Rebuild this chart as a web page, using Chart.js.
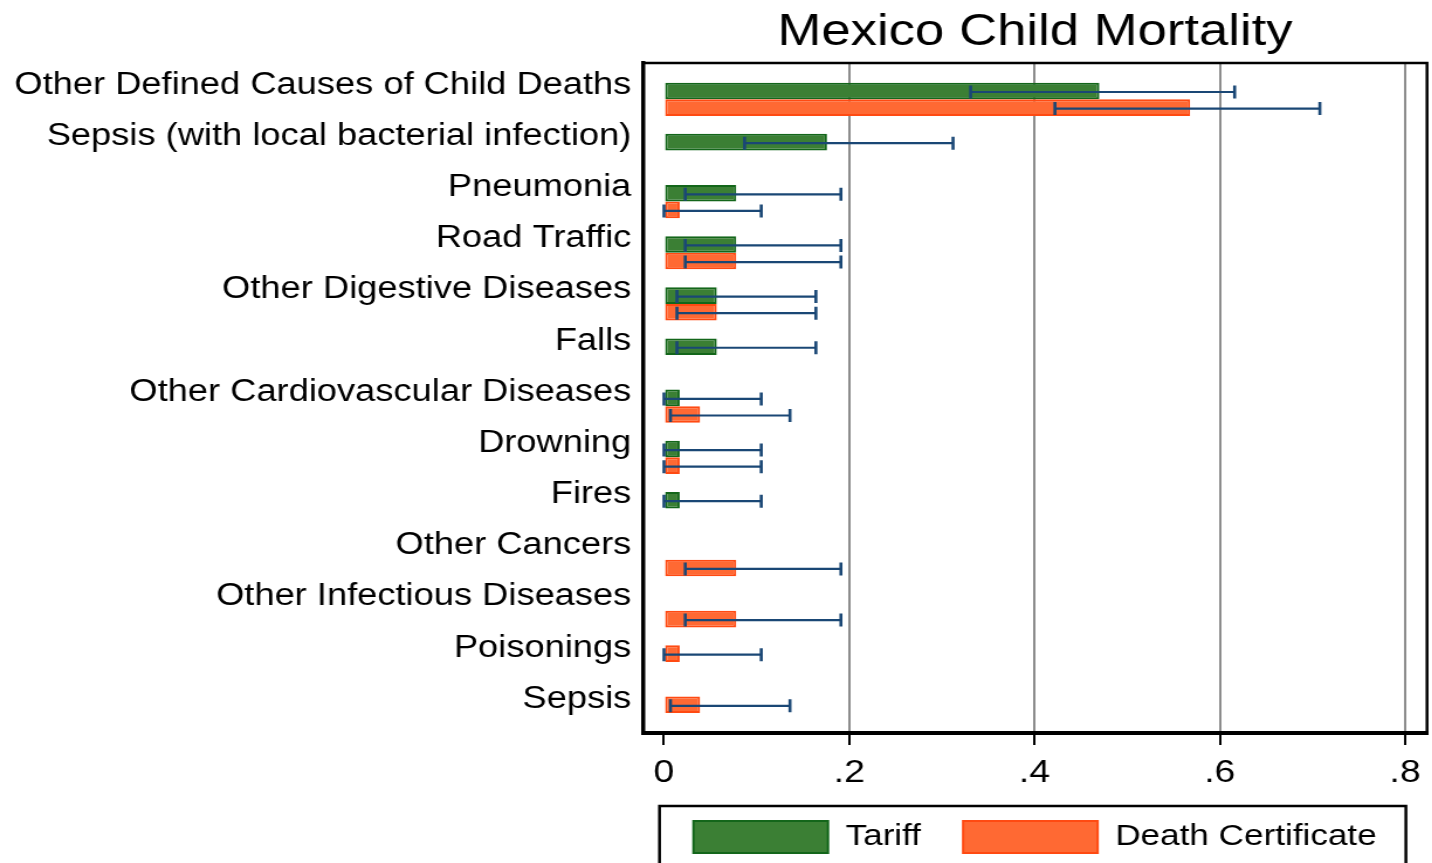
<!DOCTYPE html>
<html>
<head>
<meta charset="utf-8">
<title>Mexico Child Mortality</title>
<script src="https://cdn.jsdelivr.net/npm/chart.js@4.4.1/dist/chart.umd.min.js"></script>
<style>
  html, body { margin: 0; padding: 0; background: #fff; overflow: hidden; }
  /* the source picture is a horizontally stretched Stata graph */
  #chart { transform: scaleX(1.17); transform-origin: 0 0; }
</style>
</head>
<body>
<canvas id="chart" width="1224" height="863"></canvas>
<script>
const causes = [
  'Other Defined Causes of Child Deaths',
  'Sepsis (with local bacterial infection)',
  'Pneumonia',
  'Road Traffic',
  'Other Digestive Diseases',
  'Falls',
  'Other Cardiovascular Diseases',
  'Drowning',
  'Fires',
  'Other Cancers',
  'Other Infectious Diseases',
  'Poisonings',
  'Sepsis'
];

const tariff     = [0.470, 0.176, 0.078, 0.078, 0.057, 0.057, 0.017, 0.017, 0.017, null, null, null, null];
const tariffLow  = [0.331, 0.087, 0.023, 0.023, 0.014, 0.014, 0.000, 0.000, 0.000, null, null, null, null];
const tariffHigh = [0.616, 0.312, 0.191, 0.191, 0.164, 0.164, 0.105, 0.105, 0.105, null, null, null, null];

const deathCert     = [0.568, null, 0.017, 0.078, 0.057, null, 0.039, 0.017, null, 0.078, 0.078, 0.017, 0.039];
const deathCertLow  = [0.422, null, 0.000, 0.023, 0.014, null, 0.007, 0.000, null, 0.023, 0.023, 0.000, 0.007];
const deathCertHigh = [0.708, null, 0.105, 0.191, 0.164, null, 0.136, 0.105, null, 0.191, 0.191, 0.105, 0.136];

// causes whose death certificate bar sits in the first (Tariff) slot in the original
const dcFirstSlot = ['Poisonings', 'Sepsis'];

const tickValues = [0, 0.2, 0.4, 0.6, 0.8];
const tickLabels = ['0', '.2', '.4', '.6', '.8'];

Chart.defaults.font.family = '"Liberation Sans", Arial, sans-serif';
Chart.defaults.color = '#000';

const GREEN = '#3b7f34', GREEN_EDGE = '#13661a';
const ORANGE = '#ff6933', ORANGE_EDGE = '#ff4a12';

function points(values, lows, highs, keep) {
  return causes
    .map((cause, i) => ({ x: values[i], y: i, low: lows[i], high: highs[i], cause }))
    .filter(p => p.x !== null && keep(p.cause));
}

const barStyle = { borderWidth: 2, borderSkipped: false, categoryPercentage: 0.649, barPercentage: 1 };

const errorBars = {
  id: 'errorBars',
  afterDatasetsDraw(chart) {
    const { ctx } = chart;
    const x = chart.scales.x;
    ctx.save();
    ctx.strokeStyle = '#1a4775';
    chart.data.datasets.forEach((ds, di) => {
      chart.getDatasetMeta(di).data.forEach((bar, i) => {
        const p = ds.data[i];
        const y = bar.y + 1;
        const lo = x.getPixelForValue(p.low);
        const hi = x.getPixelForValue(p.high);
        ctx.lineWidth = 2.2;
        ctx.beginPath();
        ctx.moveTo(lo, y); ctx.lineTo(hi, y);
        ctx.stroke();
        ctx.lineWidth = 2.6;
        ctx.beginPath();
        ctx.moveTo(lo, y - 6.5); ctx.lineTo(lo, y + 6.5);
        ctx.moveTo(hi, y - 6.5); ctx.lineTo(hi, y + 6.5);
        ctx.stroke();
      });
    });
    ctx.restore();
  }
};

const frame = {
  id: 'frame',
  afterDraw(chart) {
    const { ctx, chartArea: a } = chart;
    ctx.save();
    ctx.strokeStyle = '#000';
    ctx.lineWidth = 2.5;
    ctx.beginPath();
    ctx.moveTo(a.left, a.top); ctx.lineTo(a.right, a.top); ctx.lineTo(a.right, a.bottom);
    ctx.stroke();
    // box round the legend
    const hb = chart.legend.legendHitBoxes;
    if (hb && hb.length) {
      const last = hb[hb.length - 1];
      const left = hb[0].left - 29;
      const right = last.left + last.width + 25;
      const top = hb[0].top - 15;
      ctx.lineWidth = 2.5;
      ctx.strokeRect(left, top, right - left, chart.height - top + 20);
    }
    ctx.restore();
  }
};

new Chart(document.getElementById('chart'), {
  type: 'bar',
  data: {
    datasets: [
      { label: 'Tariff', data: points(tariff, tariffLow, tariffHigh, () => true),
        stack: 'a', backgroundColor: GREEN, borderColor: GREEN_EDGE, ...barStyle },
      { label: 'Death Certificate', data: points(deathCert, deathCertLow, deathCertHigh, c => !dcFirstSlot.includes(c)),
        stack: 'b', backgroundColor: ORANGE, borderColor: ORANGE_EDGE, ...barStyle },
      { label: 'Death Certificate', inLegend: false,
        data: points(deathCert, deathCertLow, deathCertHigh, c => dcFirstSlot.includes(c)),
        stack: 'a', backgroundColor: ORANGE, borderColor: ORANGE_EDGE, ...barStyle }
    ]
  },
  options: {
    indexAxis: 'y',
    responsive: false,
    animation: false,
    layout: { padding: { left: 0, right: 4.3, top: 0, bottom: 0 } },
    scales: {
      x: {
        type: 'linear',
        min: -0.0226,
        max: 0.8237,
        afterBuildTicks: axis => { axis.ticks = tickValues.map(value => ({ value })); },
        afterFit: scale => { scale.height = 52; },
        ticks: { callback: (v, i) => tickLabels[i], font: { size: 32 }, padding: 9, maxRotation: 0, autoSkip: false },
        grid: {
          color: ctx => (ctx.tick && ctx.tick.value === 0 ? 'rgba(0,0,0,0)' : '#8c8c8c'),
          lineWidth: 2,
          tickColor: '#000',
          tickWidth: 2,
          tickLength: 12
        },
        border: { display: true, color: '#000', width: 4 }
      },
      y: {
        type: 'linear',
        reverse: true,
        offset: false,
        min: -0.710,
        max: 12.389,
        afterBuildTicks: axis => { axis.ticks = causes.map((c, i) => ({ value: i })); },
        afterFit: scale => { scale.width = 549.6; },
        ticks: { callback: v => causes[v], font: { size: 31 }, padding: 10, labelOffset: -14, autoSkip: false },
        grid: { display: false, drawTicks: false, offset: false },
        border: { display: true, color: '#000', width: 3.5 }
      }
    },
    plugins: {
      tooltip: { enabled: false },
      title: {
        display: true,
        text: 'Mexico Child Mortality',
        fullSize: false,
        color: '#000',
        font: { size: 45, weight: 'normal' },
        padding: { top: 6, bottom: 3 }
      },
      legend: {
        position: 'bottom',
        fullSize: false,
        labels: {
          boxWidth: 115,
          boxHeight: 32,
          padding: 36,
          color: '#000',
          font: { size: 30 },
          filter: (item, data) => data.datasets[item.datasetIndex].inLegend !== false
        }
      }
    }
  },
  plugins: [errorBars, frame]
});
</script>
</body>
</html>
